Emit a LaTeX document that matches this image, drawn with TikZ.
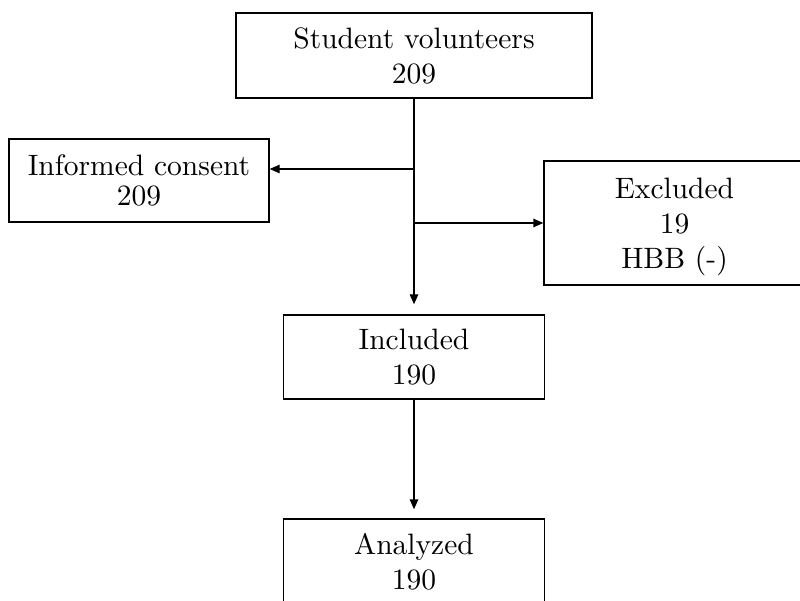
\documentclass[tikz,border=0pt]{standalone}
\usepackage{fontspec}
\setmainfont{lmroman10-regular}[Extension=.otf]
\usetikzlibrary{arrows.meta}
\begin{document}
\begin{tikzpicture}[x=1pt,y=-1pt,
  box/.style={draw,line width=1.4pt,inner sep=0pt,align=center,text depth=0pt,
    font=\fontsize{29.5}{35}\selectfont},
  arr/.style={line width=1.4pt,-{Triangle[length=10pt,width=8.5pt]}}]
\useasboundingbox (0,0) rectangle (800,601);
\node[box,minimum width=356pt,minimum height=85pt] (top) at (414,55.5) {Student volunteers\\209};
\node[box,minimum width=260pt,minimum height=83pt,font=\fontsize{29.5}{30}\selectfont] (informed) at (139,180.5) {Informed consent\\209};
\node[box,minimum width=261pt,minimum height=124pt] (excluded) at (674.5,223) {Excluded\\19\\HBB (-)};
\node[box,minimum width=261pt,minimum height=84pt] (included) at (414,357) {Included\\190};
\node[box,minimum width=261pt,minimum height=84pt] (analyzed) at (414,561) {Analyzed\\190};
\coordinate (j1) at (414,169);
\coordinate (j2) at (414,223);
\draw[arr,shorten >=10pt] (top.south) -- (included.north);
\draw[arr] (j1) -- (j1 -| informed.east);
\draw[arr] (j2) -- (excluded.west);
\draw[arr,shorten >=9pt] (included.south) -- (analyzed.north);
\end{tikzpicture}
\end{document}
